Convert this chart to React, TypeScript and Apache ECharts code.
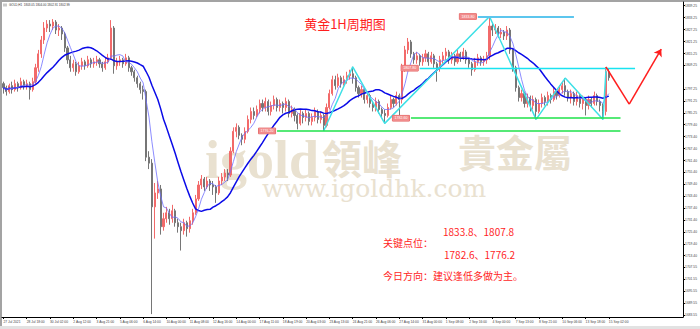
import React, { useEffect, useRef } from "react";
import * as echarts from "echarts";

// ---------- data ----------
const tickLabels = [
  "27 Jul 2021", "28 Jul 18:00", "30 Jul 02:00", "2 Aug 12:00", "3 Aug 21:00", "5 Aug 06:00",
  "6 Aug 14:00", "10 Aug 00:00", "11 Aug 08:00", "12 Aug 16:00", "14 Aug 00:00", "17 Aug 11:00",
  "18 Aug 19:00", "20 Aug 03:00", "23 Aug 13:00", "24 Aug 21:00", "26 Aug 06:00", "27 Aug 14:00",
  "31 Aug 00:00", "1 Sep 08:00", "2 Sep 16:00", "4 Sep 00:00", "7 Sep 13:00", "8 Sep 21:00",
  "10 Sep 06:00", "13 Sep 18:00", "15 Sep 02:00",
];
const barsPerTick = 8;
const totalSlots = 234;

const yTickValues = [
  1839.25, 1833.25, 1827.25, 1821.25, 1815.25, 1809.25, 1797.25, 1791.25, 1785.25, 1779.4,
  1773.4, 1767.4, 1761.4, 1755.4, 1749.4, 1743.4, 1737.4, 1731.4, 1725.4, 1719.4, 1713.4,
  1707.55, 1701.55, 1695.55, 1689.55, 1683.55,
];
const yMin = 1682.54;
const yMax = 1841.11;

// [open, close, low, high]
const candles: number[][] = [
  [1800,1798,1795,1801],[1798,1796,1794,1799],[1796,1799,1795,1800],[1799,1797,1795,1801],
  [1797,1800,1796,1802],[1800,1798,1796,1801],[1798,1801,1797,1803],[1801,1799,1797,1802],
  [1799,1800,1797,1802],[1800,1797,1792,1801],[1797,1801,1796,1803],[1801,1808,1800,1810],
  [1808,1815,1806,1817],[1815,1822,1813,1824],[1822,1828,1820,1831],[1828,1830,1826,1832],
  [1830,1829,1826,1832],[1829,1831,1827,1832.5],[1831,1827,1825,1832],[1827,1828,1824,1830],
  [1828,1825,1822,1829],[1825,1818,1816,1826],[1818,1812,1810,1819],[1812,1808,1806,1814],
  [1808,1810,1806,1812],[1810,1806,1804,1811],[1806,1809,1805,1811],[1809,1811,1807,1813],
  [1811,1809,1807,1812],[1809,1812,1808,1814],[1812,1810,1808,1813],[1810,1811,1808,1813],
  [1811,1812,1809,1814],[1812,1810,1808,1813],[1810,1808,1806,1811],[1808,1811,1807,1813],
  [1811,1813,1810,1815],[1813,1828,1812,1832],[1828,1809,1805,1829],[1809,1811,1807,1813],
  [1811,1812,1809,1814],[1812,1810,1808,1813],[1810,1813,1809,1815],[1813,1808,1806,1814],
  [1808,1806,1804,1809],[1806,1803,1801,1807],[1803,1800,1798,1804],[1800,1797,1795,1801],
  [1797,1796,1792,1799],[1796,1763,1761,1797],[1763,1760,1757,1766],[1760,1738,1684,1762],
  [1738,1745,1722,1750],[1745,1747,1742,1751],[1747,1728,1724,1749],[1728,1732,1726,1735],
  [1732,1735,1730,1738],[1735,1732,1729,1737],[1732,1736,1730,1739],[1736,1730,1728,1737],
  [1730,1728,1725,1732],[1728,1726,1716,1730],[1726,1730,1724,1732],[1730,1727,1723,1731],
  [1727,1731,1725,1733],[1731,1735,1729,1737],[1735,1742,1734,1744],[1742,1749,1741,1751],
  [1749,1752,1747,1754],[1752,1748,1746,1753],[1748,1751,1747,1753],[1751,1749,1746,1752],
  [1749,1748,1744,1751],[1748,1745,1740,1749],[1745,1751,1744,1753],[1751,1753,1749,1755],
  [1753,1755,1751,1757],[1755,1754,1751,1757],[1754,1766,1753,1768],[1766,1776,1765,1778],
  [1776,1778,1773,1780],[1778,1774,1772,1779],[1774,1772,1769,1775],[1772,1776,1770,1778],
  [1776,1782,1775,1784],[1782,1786,1780,1788],[1786,1784,1782,1788],[1784,1787,1783,1789],
  [1787,1790,1785,1792],[1790,1788,1786,1792],[1788,1791,1786,1793],[1791,1786,1784,1792],
  [1786,1789,1784,1791],[1789,1792,1787,1794],[1792,1788,1786,1793],[1788,1790,1786,1792],
  [1790,1788,1785,1791],[1788,1791,1786,1793],[1791,1785,1783,1792],[1785,1787,1783,1789],
  [1787,1784,1781,1788],[1784,1780,1777,1785],[1780,1785,1779,1787],[1785,1783,1780,1786],
  [1783,1785,1781,1787],[1785,1781,1779,1786],[1781,1783,1779,1785],[1783,1786,1781,1788],
  [1786,1782,1780,1787],[1782,1784,1780,1786],[1784,1779,1776.2,1785],[1779,1788,1778,1790],
  [1788,1795,1787,1797],[1795,1802,1794,1804],[1802,1799,1797,1804],[1799,1803,1798,1805],
  [1803,1800,1798,1804],[1800,1802,1799,1804],[1802,1804,1800,1806],[1804,1805,1802,1807],
  [1805,1803,1800,1808.5],[1803,1798,1796,1804],[1798,1795,1793,1799],[1795,1797,1793,1799],
  [1797,1792,1790,1798],[1792,1794,1790,1796],[1794,1790,1788,1795],[1790,1788,1786,1791],
  [1788,1791,1786,1793],[1791,1787,1785,1792],[1787,1785,1783,1788],[1785,1784,1780,1787],
  [1784,1788,1783,1790],[1788,1792,1787,1794],[1792,1790,1788,1793],[1790,1794,1789,1796],
  [1794,1792,1783,1795],[1792,1808,1790,1810],[1808,1817,1806,1819],[1817,1821,1815,1823],
  [1821,1815,1813,1822],[1815,1812,1810,1816],[1812,1814,1810,1816],[1814,1811,1809,1815],
  [1811,1813,1809,1815],[1813,1815,1811,1817],[1815,1811,1809,1816],[1811,1814,1810,1816],
  [1814,1810,1808,1815],[1810,1808,1801,1811],[1808,1812,1806,1814],[1812,1814,1810,1816],
  [1814,1816,1812,1818],[1816,1812,1810,1817],[1812,1814,1810,1816],[1814,1811,1809,1815],
  [1811,1815,1810,1817],[1815,1813,1811,1816],[1813,1816,1812,1818],[1816,1812,1810,1817],
  [1812,1810,1808,1813],[1810,1807,1804,1811],[1807,1811,1806,1813],[1811,1813,1809,1815],
  [1813,1811,1809,1814],[1811,1812,1809,1814],[1812,1814,1810,1816],[1814,1829,1812,1833.8],
  [1829,1827,1824,1831],[1827,1828,1825,1830],[1828,1825,1823,1829],[1825,1826,1823,1828],
  [1826,1824,1822,1827],[1824,1827,1822,1829],[1827,1817,1815,1828],[1817,1808,1806,1818],
  [1808,1798,1796,1809],[1798,1793,1791,1799],[1793,1795,1791,1797],[1795,1790,1788,1796],
  [1790,1793,1788,1795],[1793,1789,1786,1794],[1789,1792,1787,1794],[1792,1786,1782,1793],
  [1786,1790,1785,1792],[1790,1793,1788,1795],[1793,1791,1789,1794],[1791,1794,1789,1796],
  [1794,1792,1790,1795],[1792,1796,1791,1798],[1796,1794,1792,1797],[1794,1797,1793,1799],
  [1797,1799,1795,1801],[1799,1796,1794,1802.8],[1796,1793,1791,1797],[1793,1795,1790,1797],
  [1795,1791,1789,1796],[1791,1794,1789,1796],[1794,1790,1788,1795],[1790,1792,1787,1794],
  [1792,1789,1784,1793],[1789,1792,1787,1794],[1792,1790,1788,1793],[1790,1794,1789,1796],
  [1794,1791,1789,1795],[1791,1789,1786,1792],[1789,1786,1782,1790],[1786,1806,1784,1808.4],
  [1806,1802.99,1801.5,1807.5],
];

// Zigzag pivots [bar index, price]
const zigzag: number[][] = [
  [110, 1776.2], [120, 1808.5], [131, 1780], [167, 1833.8], [183, 1782], [193, 1802.8], [206, 1782], [207, 1806.6],
];
// Forecast path [bar index, price]
const forecast: number[][] = [[207, 1808.4], [215, 1789.7], [226, 1817.4]];
// Horizontal levels [price, from bar, to bar]
const levels: number[][] = [
  [1833.8, 163, 196], [1807.8, 143, 217], [1782.6, 140, 212], [1776.2, 94, 212],
];
const currentPrice = 1802.99;
const infoText = "GOLD,H1  1803.05 1804.00 1802.91 1802.99";
const titleText = "黄金1H周期图";
const keyHigh = "1833.8、1807.8";
const keyLow = "1782.6、1776.2";
const keyTitle = "关键点位：";
const directionText = "今日方向：建议逢低多做为主。";
const maSlow = 18;
const maFast = 5;

// ---------- styles ----------
const levelStyles = [
  { color: "#5cc6ee", width: 2 },
  { color: "#19e3f0", width: 1.3 },
  { color: "#1ee24a", width: 1.5 },
  { color: "#1ee24a", width: 1.5 },
];
const BULL = "#f26a6a";
const BEAR = "#767676";
const WM = "#e9e1d0";
const RED = "#ff1e1e";

function sma(values: number[], n: number) {
  return values.map((_, i) => {
    const s = Math.max(0, i - n + 1);
    let sum = 0;
    for (let k = s; k <= i; k++) sum += values[k];
    return +(sum / (i - s + 1)).toFixed(2);
  });
}

export default function App() {
  const ref = useRef<HTMLDivElement>(null);
  useEffect(() => {
    const chart = echarts.init(ref.current!, null, { renderer: "svg" });
    const categories = Array.from({ length: totalSlots }, (_, i) => String(i));
    const closes = candles.map((c) => c[1]);
    const showTick = (index: number) => index % barsPerTick === 0 && index / barsPerTick < tickLabels.length;

    const levelLines = levels.map((lv, i) => [
      {
        coord: [lv[1], lv[0]],
        symbol: "none",
        lineStyle: { color: levelStyles[i].color, width: levelStyles[i].width, type: "solid" },
        label: {
          show: true,
          position: "start",
          formatter: lv[0].toFixed(2),
          fontSize: 3.6,
          color: "#fff",
          backgroundColor: "#f28b8b",
          borderColor: "#e05a5a",
          borderWidth: 0.5,
          padding: [0.8, 2],
          distance: 1.5,
        },
      },
      { coord: [lv[2], lv[0]], symbol: "none" },
    ]);
    const forecastLines = forecast.slice(0, -1).map((p, i) => [
      { coord: p, symbol: "none", lineStyle: { color: RED, width: 1.5, type: "solid" } },
      { coord: forecast[i + 1], symbol: i === forecast.length - 2 ? "arrow" : "none", symbolSize: 7 },
    ]);

    chart.setOption({
      animation: false,
      backgroundColor: "#ffffff",
      grid: { left: 2, right: 14, top: 2, bottom: 12, containLabel: false },
      xAxis: {
        type: "category",
        data: categories,
        boundaryGap: true,
        axisLine: { show: true, lineStyle: { color: "#000", width: 1 } },
        axisTick: { show: true, alignWithLabel: true, interval: showTick, length: 2, lineStyle: { color: "#000" } },
        axisLabel: {
          interval: showTick,
          formatter: (_v: string, i: number) => (i % barsPerTick === 0 ? tickLabels[i / barsPerTick] ?? "" : ""),
          fontSize: 3.3,
          color: "#444",
          align: "left",
          margin: 3,
          fontFamily: "Liberation Sans",
        },
        splitLine: { show: false },
      },
      yAxis: {
        type: "value",
        position: "right",
        min: yMin,
        max: yMax,
        axisLine: { show: true, lineStyle: { color: "#000", width: 1 } },
        axisTick: { show: true, length: 2, customValues: yTickValues, lineStyle: { color: "#000" } },
        axisLabel: {
          customValues: yTickValues,
          formatter: (v: number) => v.toFixed(2),
          fontSize: 3.3,
          color: "#444",
          margin: 2,
          fontFamily: "Liberation Sans",
        },
        splitLine: { show: false },
      },
      graphic: [
        { type: "rect", shape: { x: 0, y: 0, width: 700, height: 2 }, style: { fill: "#a3a3a3" }, silent: true },
        { type: "rect", shape: { x: 0, y: 0, width: 2, height: 329 }, style: { fill: "#a3a3a3" }, silent: true },
        { type: "rect", shape: { x: 0, y: 326, width: 700, height: 3 }, style: { fill: "#e2e2e2" }, silent: true },
        { type: "text", x: 205, y: 160, style: { text: "igold", font: 'bold 54px "Liberation Serif"', fill: WM, verticalAlign: "middle" }, silent: true },
        { type: "text", x: 322, y: 157, style: { text: "領峰", font: 'bold 40px "Noto Sans CJK TC"', fill: WM, verticalAlign: "middle" }, silent: true },
        { type: "text", x: 458, y: 150, style: { text: "貴金屬", font: 'bold 38px "Noto Sans CJK TC"', fill: WM, verticalAlign: "middle" }, silent: true },
        { type: "text", x: 262, y: 188, style: { text: "www.igoldhk.com", font: '25px "DejaVu Serif"', fill: WM, verticalAlign: "middle" }, silent: true },
        { type: "rect", shape: { x: 3, y: 3.5, width: 4, height: 3 }, style: { fill: "#c9c9c9" }, silent: true },
        { type: "text", x: 9, y: 5, style: { text: infoText, font: '3px "Liberation Sans"', fill: "#333", verticalAlign: "middle" }, silent: true },
        { type: "text", x: 345, y: 23.5, style: { text: titleText, font: '13px "Noto Sans CJK SC"', fill: RED, align: "center", verticalAlign: "middle" }, silent: true },
        { type: "text", x: 443, y: 231.5, style: { text: keyHigh, font: '10px "Noto Sans CJK SC"', fill: RED, verticalAlign: "middle" }, silent: true },
        { type: "text", x: 383, y: 242.5, style: { text: keyTitle, font: '10px "Noto Sans CJK SC"', fill: RED, verticalAlign: "middle" }, silent: true },
        { type: "text", x: 444, y: 254.5, style: { text: keyLow, font: '10px "Noto Sans CJK SC"', fill: RED, verticalAlign: "middle" }, silent: true },
        { type: "text", x: 383, y: 275, style: { text: directionText, font: '10px "Noto Sans CJK SC"', fill: RED, verticalAlign: "middle" }, silent: true },
      ],
      series: [
        {
          type: "candlestick",
          data: candles,
          barWidth: 1.6,
          itemStyle: { color: BULL, color0: BEAR, borderColor: BULL, borderColor0: BEAR, borderWidth: 1 },
          markLine: {
            silent: true,
            symbol: ["none", "none"],
            label: { show: false },
            data: [
              ...levelLines,
              ...forecastLines,
              {
                yAxis: currentPrice,
                lineStyle: { opacity: 0 },
                label: {
                  show: true,
                  position: "end",
                  formatter: currentPrice.toFixed(2),
                  fontSize: 3.3,
                  color: "#fff",
                  backgroundColor: "#000",
                  padding: [1, 2],
                  distance: 0,
                },
              },
            ],
          },
        },
        {
          type: "line",
          data: sma(closes, maSlow),
          showSymbol: false,
          symbol: "none",
          lineStyle: { color: "#0b0be8", width: 1.5 },
          silent: true,
        },
        {
          type: "line",
          data: sma(closes, maFast),
          showSymbol: false,
          symbol: "none",
          lineStyle: { color: "#6f6fff", width: 0.8 },
          silent: true,
        },
        {
          type: "line",
          data: zigzag,
          showSymbol: false,
          symbol: "none",
          lineStyle: { color: "#3ee0e6", width: 1.5 },
          silent: true,
        },
      ],
    });
    return () => chart.dispose();
  }, []);
  return (
    <div
      ref={ref}
      style={{ position: "fixed", left: 0, top: 0, width: 700, height: 329, background: "#fff" }}
    />
  );
}
